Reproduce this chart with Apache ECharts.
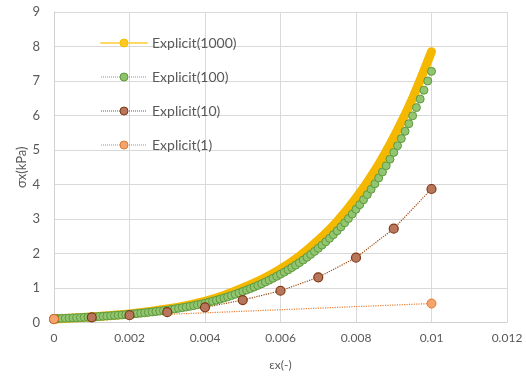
<!DOCTYPE html>
<html>
<head>
<meta charset="utf-8">
<script src="https://cdn.jsdelivr.net/npm/echarts@6/dist/echarts.min.js"></script>
<style>
html,body{margin:0;padding:0;background:#fff;}
#c{width:526px;height:380px;}
</style>
</head>
<body>
<div id="c"></div>
<script>
// Strain step of each series (x values = index * step)
const STEP_1000 = 0.0005;
const STEP_100 = 0.0001;
const STEP_10 = 0.001;
const STEP_1 = 0.01;

const seriesNames = ['Explicit(1000)', 'Explicit(100)', 'Explicit(10)', 'Explicit(1)'];

// σx (kPa)
const sig1000 = [0.10, 0.127, 0.16, 0.20, 0.25, 0.312, 0.39, 0.488, 0.61, 0.781, 1.00,
  1.245, 1.55, 1.92, 2.38, 2.927, 3.60, 4.40, 5.37, 6.50, 7.85];

const sig100 = [
  0.110, 0.114, 0.119, 0.123, 0.128, 0.133, 0.138, 0.143, 0.149, 0.154,
  0.160, 0.167, 0.174, 0.181, 0.188, 0.196, 0.204, 0.213, 0.221, 0.230,
  0.240, 0.250, 0.260, 0.271, 0.282, 0.294, 0.306, 0.319, 0.332, 0.346,
  0.360, 0.376, 0.393, 0.411, 0.430, 0.449, 0.469, 0.490, 0.513, 0.536,
  0.560, 0.587, 0.616, 0.646, 0.677, 0.710, 0.744, 0.781, 0.819, 0.858,
  0.900, 0.941, 0.983, 1.028, 1.074, 1.122, 1.173, 1.226, 1.282, 1.339,
  1.400, 1.461, 1.525, 1.592, 1.662, 1.735, 1.811, 1.890, 1.973, 2.060,
  2.150, 2.243, 2.340, 2.440, 2.546, 2.656, 2.770, 2.890, 3.014, 3.144,
  3.280, 3.416, 3.559, 3.707, 3.861, 4.021, 4.188, 4.363, 4.544, 4.733,
  4.930, 5.126, 5.330, 5.542, 5.762, 5.991, 6.229, 6.477, 6.734, 7.002,
  7.280
];

const sig10 = [0.10, 0.15, 0.21, 0.30, 0.44, 0.65, 0.92, 1.31, 1.88, 2.72, 3.87];

const sig1 = [0.10, 0.55];

// Axis ticks
const xMin = 0, xMax = 0.012, xStep = 0.002;
const yMin = 0, yMax = 9, yStep = 1;

const toPts = (arr, step) => arr.map((v, i) => [+(i * step).toFixed(6), v]);

const txt = '#595959';
const font = 'Lato, "Open Sans", sans-serif';

const chart = echarts.init(document.getElementById('c'), null, {renderer: 'canvas'});
chart.setOption({
  animation: false,
  backgroundColor: '#ffffff',
  grid: {left: 54, right: 19, top: 12, bottom: 57.5, containLabel: false},
  legend: {
    orient: 'vertical',
    left: 95,
    top: 31,
    itemWidth: 46,
    itemHeight: 10,
    itemGap: 20,
    textStyle: {color: txt, fontSize: 14, fontFamily: font},
    data: [
      {name: seriesNames[0],
       itemStyle: {color: '#FFC81E', borderColor: '#F5BE00', borderWidth: 1},
       lineStyle: {color: '#FFD966', width: 2, type: 'solid'}},
      {name: seriesNames[1],
       itemStyle: {color: '#8DC26B', borderColor: '#5E9A3A', borderWidth: 1},
       lineStyle: {color: '#70AD47', width: 1, type: 'dotted'}},
      {name: seriesNames[2],
       itemStyle: {color: '#B8765C', borderColor: '#7F3A14', borderWidth: 1},
       lineStyle: {color: '#9E480E', width: 1, type: 'dotted'}},
      {name: seriesNames[3],
       itemStyle: {color: '#F4A46E', borderColor: '#E0782E', borderWidth: 1},
       lineStyle: {color: '#ED7D31', width: 1, type: 'dotted'}}
    ]
  },
  xAxis: {
    type: 'value', min: xMin, max: xMax, interval: xStep,
    name: 'εx(-)', nameLocation: 'middle', nameGap: 37, nameMoveOverlap: false,
    nameTextStyle: {color: txt, fontSize: 12, fontFamily: font},
    axisLine: {show: true, lineStyle: {color: '#D0D0D0'}},
    axisTick: {show: false},
    axisLabel: {color: txt, fontSize: 12, fontFamily: font, margin: 10},
    splitLine: {show: true, lineStyle: {color: '#D9D9D9'}}
  },
  yAxis: {
    type: 'value', min: yMin, max: yMax, interval: yStep,
    name: 'σx(kPa)', nameLocation: 'middle', nameGap: 26, nameMoveOverlap: false,
    nameTextStyle: {color: txt, fontSize: 13, fontFamily: font},
    axisLine: {show: true, lineStyle: {color: '#D0D0D0'}},
    axisTick: {show: false},
    axisLabel: {color: txt, fontSize: 13, fontFamily: font, margin: 14},
    splitLine: {show: true, lineStyle: {color: '#D9D9D9'}}
  },
  series: [
    {
      name: seriesNames[0], type: 'line', data: toPts(sig1000, STEP_1000),
      smooth: 0.3, symbol: 'circle', showSymbol: false, symbolSize: 9,
      itemStyle: {color: '#F5B800'},
      lineStyle: {color: '#F5B800', width: 9, cap: 'round', join: 'round'}
    },
    {
      name: seriesNames[1], type: 'line', data: toPts(sig100, STEP_100),
      symbol: 'circle', symbolSize: 8, showAllSymbol: true,
      itemStyle: {color: '#92C572', borderColor: '#5E9A3A', borderWidth: 1},
      lineStyle: {color: '#70AD47', width: 1, type: 'dotted'}
    },
    {
      name: seriesNames[2], type: 'line', data: toPts(sig10, STEP_10),
      symbol: 'circle', symbolSize: 9,
      itemStyle: {color: '#B8765C', borderColor: '#7F3A14', borderWidth: 1.2},
      lineStyle: {color: '#9E480E', width: 1.2, type: 'dotted'}
    },
    {
      name: seriesNames[3], type: 'line', data: toPts(sig1, STEP_1),
      symbol: 'circle', symbolSize: 9,
      itemStyle: {color: '#F4A46E', borderColor: '#E0782E', borderWidth: 1},
      lineStyle: {color: '#ED7D31', width: 1.2, type: 'dotted'}
    }
  ]
});
</script>
</body>
</html>
